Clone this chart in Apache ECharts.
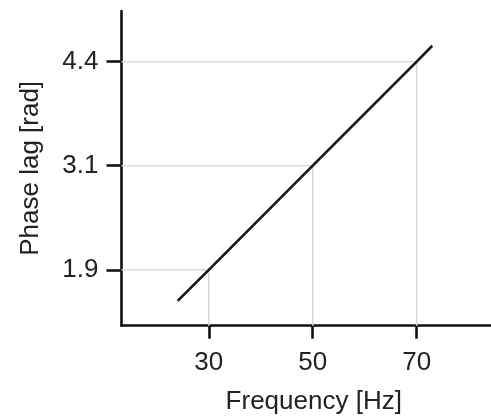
<!DOCTYPE html>
<html>
<head>
<meta charset="utf-8">
<script src="https://cdn.jsdelivr.net/npm/echarts@6/dist/echarts.min.js"></script>
<style>html,body{margin:0;padding:0;background:#fff}#c{width:491px;height:416px}</style>
</head>
<body>
<div id="c"></div>
<script>
// Data
const freqTicks = [30, 50, 70];            // Hz
const phaseTicks = [1.885, 3.142, 4.398];  // rad, labelled 1.9 / 3.1 / 4.4
const phaseTickLabels = ['1.9', '3.1', '4.4'];
const lineFreq = [24, 30, 50, 70, 73];
const linePhase = [1.51, 1.885, 3.142, 4.398, 4.59];

const xMin = 13.2, xMax = 84.3, yMin = 1.21, yMax = 5.01;
const FONT = 'Liberation Sans', FS = 26, TXT = '#222';

const series = [];
freqTicks.forEach((f, i) => {
  series.push({
    type: 'line', silent: true, symbol: 'none', z: 1,
    lineStyle: { color: '#d9d9d9', width: 1.6 },
    data: [[f, yMin], [f, phaseTicks[i]], [xMin, phaseTicks[i]]]
  });
});
series.push({
  type: 'line', symbol: 'none', z: 3,
  lineStyle: { color: '#161616', width: 2.6 },
  data: lineFreq.map((f, i) => [f, linePhase[i]])
});

const chart = echarts.init(document.getElementById('c'));
chart.setOption({
  animation: false,
  grid: { left: 121.5, right: 0, top: 11, bottom: 90.3, containLabel: false, outerBoundsMode: 'none' },
  xAxis: {
    type: 'value', min: xMin, max: xMax,
    name: 'Frequency [Hz]', nameLocation: 'middle', nameGap: 63,
    nameTextStyle: { fontFamily: FONT, fontSize: FS, color: TXT, padding: [0, 0, 0, 15] },
    axisLine: { lineStyle: { color: '#111', width: 2.6 } },
    axisTick: { show: true, customValues: freqTicks, length: 13, lineStyle: { color: '#111', width: 2.6 } },
    axisLabel: { customValues: freqTicks, fontFamily: FONT, fontSize: FS, color: TXT, margin: 24 },
    splitLine: { show: false }
  },
  yAxis: {
    type: 'value', min: yMin, max: yMax,
    name: 'Phase lag [rad]', nameLocation: 'middle', nameGap: 78, nameRotate: 90,
    nameTextStyle: { fontFamily: FONT, fontSize: FS, color: TXT },
    axisLine: { show: true, lineStyle: { color: '#111', width: 2.6 } },
    axisTick: { show: true, customValues: phaseTicks, length: 15, lineStyle: { color: '#111', width: 2.6 } },
    axisLabel: {
      customValues: phaseTicks, fontFamily: FONT, fontSize: FS, color: TXT, margin: 23,
      formatter: v => phaseTickLabels[phaseTicks.indexOf(v)] ?? ''
    },
    splitLine: { show: false }
  },
  series: series
});
</script>
</body>
</html>
